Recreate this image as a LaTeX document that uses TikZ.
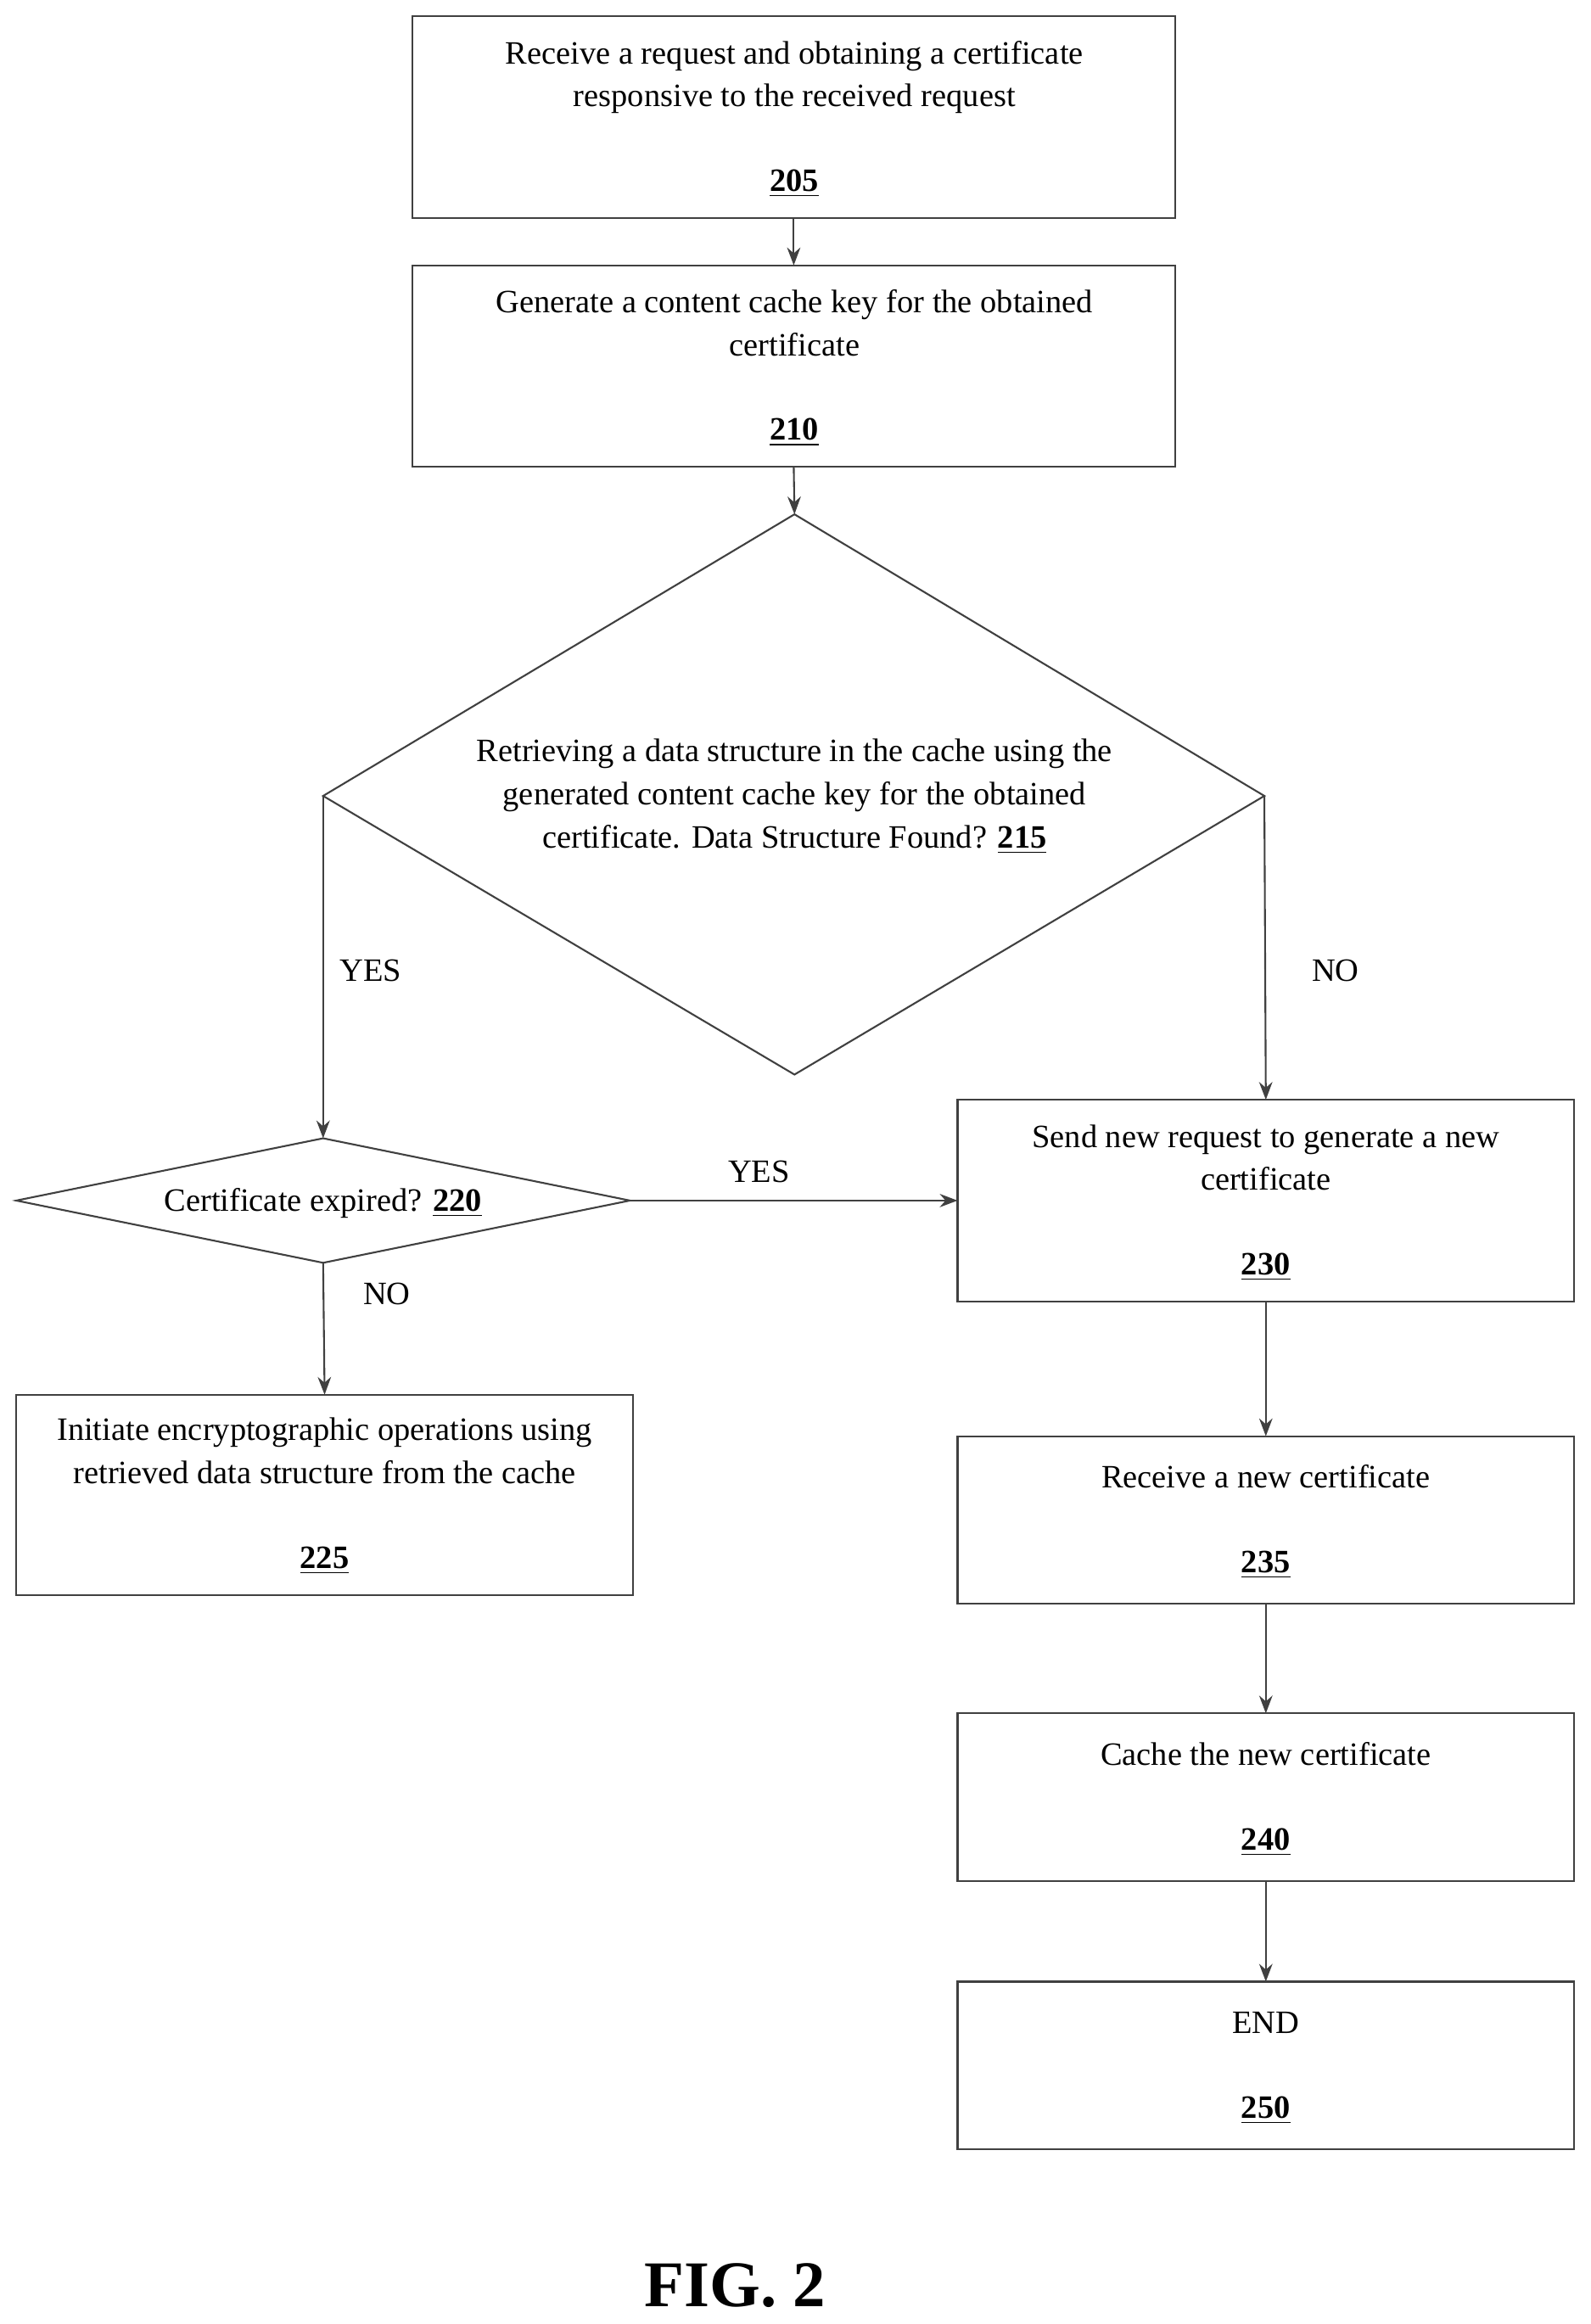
\documentclass[tikz,border=0pt]{standalone}
\usepackage{fontspec}
\setmainfont{Liberation Serif}
\usetikzlibrary{arrows.meta}
\begin{document}
\begin{tikzpicture}[x=0.5pt,y=-0.5pt,
  box/.style={draw=black!75,line width=0.6pt},
  txt/.style={font=\fontsize{11}{14.5}\selectfont,align=center,inner sep=0pt,anchor=base},
  num/.style={font=\fontsize{11}{14.5}\selectfont\bfseries,inner sep=0pt,anchor=base},
  arr/.style={draw=black!75,line width=0.6pt,-{Stealth[length=6pt,width=4.5pt]}}]
\useasboundingbox (0,0) rectangle (1073,1568);
\newcommand{\bx}[5]{\draw[box] (#2,#3) rectangle (#4,#5); \coordinate (#1t) at ({(#2+#4)/2},#3); \coordinate (#1b) at ({(#2+#4)/2},#5); \coordinate (#1l) at (#2,{(#3+#5)/2});}
\bx{a}{278}{11}{793}{147}
\node[txt] (a1) at (536,43) {Receive a request and obtaining a certificate};
\node[txt] (a2) at (536,72) {responsive to the received request};
\node[num] (a3) at (536,129) {\underline{205}};
\bx{b}{278}{179}{793}{315}
\node[txt] (b1) at (536,211) {Generate a content cache key for the obtained};
\node[txt] (b2) at (536,240) {certificate};
\node[num] (b3) at (536,297) {\underline{210}};
\draw[box] (536,347) coordinate (dt) -- (853,537) coordinate (dr) -- (536,725) -- (218,537) coordinate (dl) -- cycle;
\node[txt] (d1) at (536,514) {Retrieving a data structure in the cache using the};
\node[txt] (d2) at (536,543) {generated content cache key for the obtained};
\node[txt] (d3) at (536,572) {certificate. Data Structure Found? \textbf{\underline{215}}};
\draw[box] (11,810) -- (218,768) coordinate (et) -- (425,810) coordinate (er) -- (218,852) coordinate (eb) -- cycle;
\node[txt] (e1) at (218,817) {Certificate expired? \textbf{\underline{220}}};
\bx{f}{11}{941}{427}{1076}
\node[txt] (f1) at (219,972) {Initiate encryptographic operations using};
\node[txt] (f2) at (219,1001) {retrieved data structure from the cache};
\node[num] (f3) at (219,1058) {\underline{225}};
\bx{g}{646}{742}{1062}{878}
\node[txt] (g1) at (854,774) {Send new request to generate a new};
\node[txt] (g2) at (854,803) {certificate};
\node[num] (g3) at (854,860) {\underline{230}};
\bx{h}{646}{969}{1062}{1082}
\node[txt] (h1) at (854,1004) {Receive a new certificate};
\node[num] (h3) at (854,1061) {\underline{235}};
\bx{i}{646}{1156}{1062}{1269}
\node[txt] (i1) at (854,1191) {Cache the new certificate};
\node[num] (i3) at (854,1248) {\underline{240}};
\bx{j}{646}{1337}{1062}{1450}
\node[txt] (j1) at (854,1372) {END};
\node[num] (j3) at (854,1429) {\underline{250}};
\draw[arr] (ab) -- (bt);
\draw[arr] (bb) -- (dt);
\draw[arr] (dl) -- (et);
\draw[arr] (dr) -- (gt);
\draw[arr] (er) -- (gl);
\draw[arr] (eb) -- (ft);
\draw[arr] (gb) -- (ht);
\draw[arr] (hb) -- (it);
\draw[arr] (ib) -- (jt);
\node[txt] (l1) at (250,662) {YES};
\node[txt] (l2) at (901,662) {NO};
\node[txt] (l3) at (512,798) {YES};
\node[txt] (l4) at (261,880) {NO};
\node[font=\fontsize{22}{26}\selectfont\bfseries,inner sep=0pt] (fig) at (496,1542) {FIG. 2};
\end{tikzpicture}
\end{document}
